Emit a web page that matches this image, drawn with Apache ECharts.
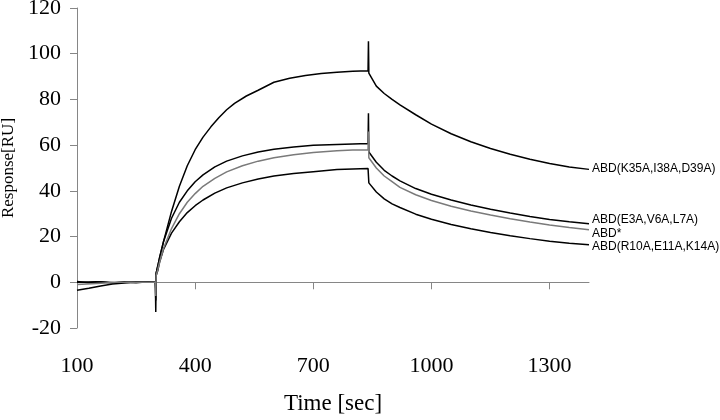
<!DOCTYPE html>
<html>
<head>
<meta charset="utf-8">
<script src="https://cdn.jsdelivr.net/npm/echarts@6/dist/echarts.min.js"></script>
<style>html,body{margin:0;padding:0;background:#fff}#c{width:720px;height:420px}</style>
</head>
<body>
<div id="c"></div>
<script>
var xTicks = [100, 400, 700, 1000, 1300];
var seriesNames = ['ABD(K35A,I38A,D39A)', 'ABD(E3A,V6A,L7A)', 'ABD*', 'ABD(R10A,E11A,K14A)'];

var k35a = [[100,0.3],[130,-0.2],[160,0.2],[190,-0.3],[220,0.2],[250,-0.2],[280,0.2],[299,0],
  [300,-3],[301,4],[305,7],[310,11],[320,18],[340,31],[360,42],[380,51],[400,58],[420,63.5],[440,68],
  [460,72],[480,75.5],[500,78.3],[530,81.5],[560,84],[600,87.5],[640,89.3],[680,90.5],[720,91.3],
  [760,91.9],[800,92.3],[839,92.6],[840,105.5],[841,91.5],[860,85.8],[880,82.6],[900,80],[920,77.6],
  [960,73.3],[1000,69.2],[1050,65],[1100,61.5],[1150,58.5],[1200,56],[1250,53.8],[1300,52],[1350,50.4],[1400,49.4]];

var e3a = [[100,0],[150,0.2],[200,-0.2],[250,0.2],[299,0],
  [300,-13],[301,4],[305,7],[310,11],[320,18],[340,28],[360,35],[380,40],[400,44],[420,47],[450,50.5],
  [480,53],[520,55.3],[560,57],[600,58.2],[650,59.2],[700,59.9],[760,60.3],[800,60.5],[839,60.7],
  [840,74],[841,57],[860,52.5],[880,49],[900,46.5],[920,44.4],[960,41],[1000,38.5],[1050,36],[1100,33.8],
  [1150,32],[1200,30.3],[1250,28.8],[1300,27.5],[1350,26.5],[1400,25.6]];

var abdStar = [[100,-1],[150,-0.5],[200,0],[250,0],[299,0],
  [300,-6],[301,3],[305,5.5],[310,9],[320,15],[340,23.5],[360,30],[380,35],[400,38.8],[420,42],[450,45.5],
  [480,48.3],[520,51],[560,53],[600,54.5],[650,55.8],[700,56.8],[760,57.6],[800,57.9],[839,58],
  [840,66],[841,54.5],[860,50],[880,46.5],[900,44],[920,41.5],[960,38.3],[1000,35.8],[1050,33.3],[1100,31.2],
  [1150,29.4],[1200,27.8],[1250,26.4],[1300,25.1],[1350,24],[1400,23]];

var r10a = [[100,-3.5],[130,-2.6],[160,-1.6],[190,-0.8],[220,-0.3],[250,0],[299,0],
  [300,-8],[301,3],[305,5],[310,9],[320,14.5],[340,21.5],[360,26.5],[380,30.5],[400,33.5],[420,36],[450,39],
  [480,41.3],[520,43.5],[560,45.2],[600,46.5],[650,47.6],[700,48.4],[760,49.3],[800,49.6],[839,49.8],
  [840,49.8],[841,43.5],[860,39.5],[880,36.5],[900,34.3],[920,32.7],[960,29.8],[1000,27.6],[1050,25.3],[1100,23.4],
  [1150,21.8],[1200,20.4],[1250,19.1],[1300,18],[1350,17.1],[1400,16.4]];

var seriesData = [k35a, e3a, abdStar, r10a];
var seriesColors = ['#000000', '#000000', '#7a7a7a', '#000000'];
var labelOffsets = [[0,-1],[0,-4],[0,4],[0,2]];

var chart = echarts.init(document.getElementById('c'));
var serif = 'Liberation Serif, Times New Roman, serif';
chart.setOption({
  animation: false,
  grid: {left: 77, right: 131, top: 8, bottom: 92, containLabel: false, outerBoundsMode: 'none'},
  xAxis: [{
    type: 'value', min: 100, max: 1400, interval: 300, position: 'bottom',
    axisLine: {show: false, onZero: false},
    axisTick: {show: false},
    splitLine: {show: false},
    axisLabel: {customValues: xTicks, fontFamily: serif, fontSize: 22, color: '#000', margin: 27,
      formatter: function (v) { return String(v); }},
    name: 'Time [sec]', nameLocation: 'middle', nameGap: 64,
    nameTextStyle: {fontFamily: serif, fontSize: 23, color: '#000'}
  }, {
    type: 'value', min: 100, max: 1400, interval: 300, position: 'bottom',
    axisLine: {show: true, onZero: true, lineStyle: {color: '#868686', width: 1}},
    axisTick: {show: true, customValues: xTicks, length: 7, lineStyle: {color: '#868686'}},
    axisLabel: {show: false},
    splitLine: {show: false}
  }],
  yAxis: {
    type: 'value', min: -20, max: 120, interval: 20,
    axisLine: {show: true, onZero: false, lineStyle: {color: '#868686', width: 1}},
    axisTick: {show: true, length: 7, lineStyle: {color: '#868686'}},
    splitLine: {show: false},
    axisLabel: {fontFamily: serif, fontSize: 22, color: '#000', margin: 16},
    name: 'Response[RU]', nameLocation: 'middle', nameGap: 60,
    nameTextStyle: {fontFamily: serif, fontSize: 17, color: '#000'}
  },
  series: seriesData.map(function (d, i) {
    return {
      name: seriesNames[i], type: 'line', data: d, symbol: 'none', xAxisIndex: 0,
      lineStyle: {color: seriesColors[i], width: 1.5},
      itemStyle: {color: seriesColors[i]},
      z: i === 2 ? 3 : 2,
      endLabel: {show: true, formatter: seriesNames[i], distance: 3, offset: labelOffsets[i],
        fontFamily: 'Liberation Sans, Arial, sans-serif', fontSize: 12, color: '#000'}
    };
  })
});
</script>
</body>
</html>
